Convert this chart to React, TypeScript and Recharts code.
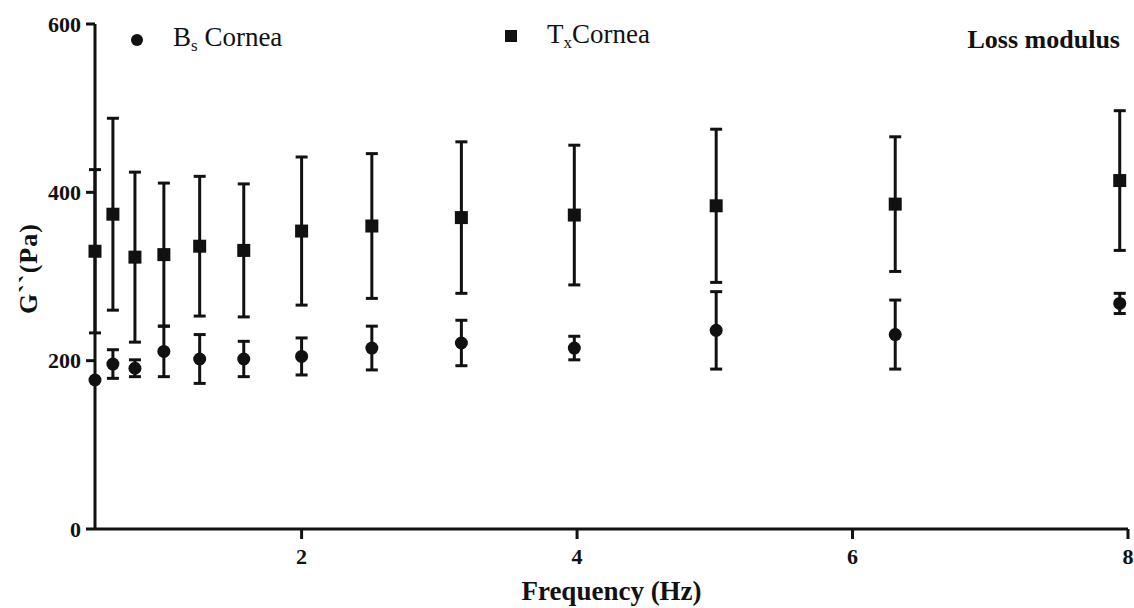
import {
  ScatterChart,
  Scatter,
  XAxis,
  YAxis,
  ErrorBar,
} from "recharts";

const freq = [0.5, 0.63, 0.79, 1, 1.26, 1.58, 2, 2.51, 3.16, 3.98, 5.01, 6.31, 7.94];

// B_s cornea (circles)
const bsMean = [177, 196, 191, 211, 202, 202, 205, 215, 221, 215, 236, 231, 268];
const bsErr = [0, 17, 10, 30, 29, 21, 22, 26, 27, 14, 46, 41, 12];

// T_x cornea (squares)
const txMean = [330, 374, 323, 326, 336, 331, 354, 360, 370, 373, 384, 386, 414];
const txErr = [97, 114, 101, 85, 83, 79, 88, 86, 90, 83, 91, 80, 83];

const xTicks = [2, 4, 6, 8];
const yTicks = [0, 200, 400, 600];

const bsData = freq.map((f, i) => ({ freq: f, value: bsMean[i], err: bsErr[i] }));
const txData = freq.map((f, i) => ({ freq: f, value: txMean[i], err: txErr[i] }));

const FONT = '"Liberation Serif", "Times New Roman", serif';
const INK = "#111";

const tickStyle = { fontSize: 22, fontWeight: 700, fontFamily: FONT, fill: INK };
const lineStyle = { stroke: INK, strokeWidth: 3 };

function Dot(props: any) {
  return <circle cx={props.cx} cy={props.cy} r={6.5} fill={INK} />;
}

function Square(props: any) {
  return <rect x={props.cx - 6.5} y={props.cy - 6.5} width={13} height={13} fill={INK} />;
}

function YLabel({ viewBox }: any) {
  const cx = viewBox.x + 28;
  const cy = viewBox.y + viewBox.height / 2 - 8;
  return (
    <text
      x={cx}
      y={cy}
      transform={`rotate(-90, ${cx}, ${cy})`}
      textAnchor="middle"
      dominantBaseline="central"
      style={{ fontSize: 26, fontWeight: 700, fontFamily: FONT, fill: INK, letterSpacing: 1 }}
    >
      G``(Pa)
    </text>
  );
}

function Header() {
  return (
    <svg
      width={1134}
      height={70}
      style={{ position: "absolute", left: 0, top: 0, pointerEvents: "none" }}
    >
      <circle cx={137} cy={40} r={6} fill={INK} />
      <text x={173} y={46} style={{ fontSize: 27, fontFamily: FONT, fill: INK }}>
        B
        <tspan fontSize={17} dy={5}>s</tspan>
        <tspan dy={-5}> Cornea</tspan>
      </text>
      <rect x={505} y={30} width={12} height={12} fill={INK} />
      <text x={547} y={43} style={{ fontSize: 27, fontFamily: FONT, fill: INK }}>
        T
        <tspan fontSize={17} dy={5}>x</tspan>
        <tspan dy={-5}>Cornea</tspan>
      </text>
      <text
        x={1120}
        y={48}
        textAnchor="end"
        style={{ fontSize: 26, fontWeight: 700, fontFamily: FONT, fill: INK }}
      >
        Loss modulus
      </text>
    </svg>
  );
}

export default function App() {
  return (
    <div
      style={{
        position: "absolute",
        left: 0,
        top: 0,
        width: 1134,
        height: 608,
        background: "#fff",
      }}
    >
      <ScatterChart
        width={1134}
        height={608}
        margin={{ top: 24, right: 6, bottom: 0, left: 0 }}
      >
        <XAxis
          type="number"
          dataKey="freq"
          domain={[0.5, 8]}
          ticks={xTicks}
          height={79}
          axisLine={lineStyle}
          tickLine={lineStyle}
          tickSize={10}
          tickMargin={9}
          tick={tickStyle}
          label={{
            value: "Frequency (Hz)",
            position: "insideBottom",
            offset: 8,
            style: { fontSize: 27, fontWeight: 700, fontFamily: FONT, fill: INK },
          }}
        />
        <YAxis
          type="number"
          dataKey="value"
          domain={[0, 600]}
          ticks={yTicks}
          width={95}
          axisLine={lineStyle}
          tickLine={lineStyle}
          tickSize={9}
          tickMargin={5}
          tick={tickStyle}
          label={<YLabel />}
        />
        <Scatter data={txData} shape={<Square />} isAnimationActive={false}>
          <ErrorBar dataKey="err" direction="y" width={6} stroke={INK} strokeWidth={3} />
        </Scatter>
        <Scatter data={bsData} shape={<Dot />} isAnimationActive={false}>
          <ErrorBar dataKey="err" direction="y" width={6} stroke={INK} strokeWidth={3} />
        </Scatter>
      </ScatterChart>
      <Header />
    </div>
  );
}
